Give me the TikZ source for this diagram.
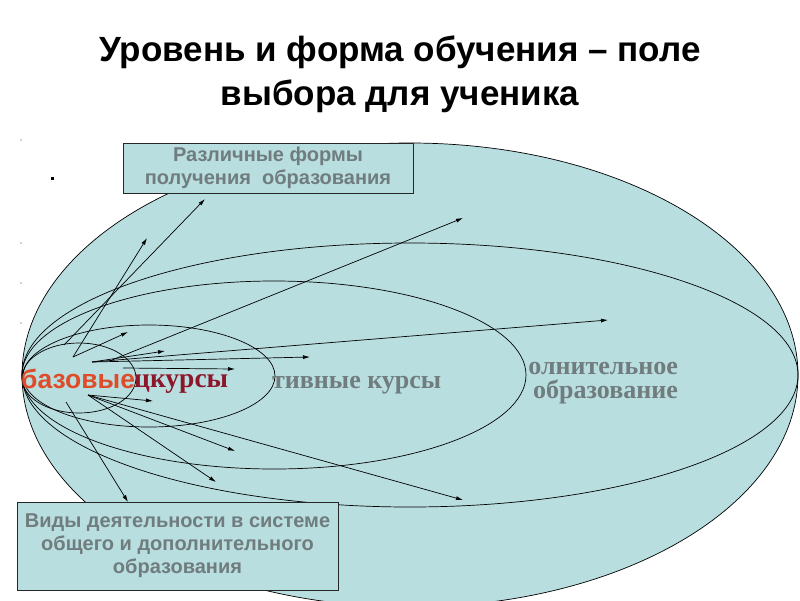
\documentclass[tikz,border=0pt]{standalone}
\usepackage{fontspec}
\setmainfont{Liberation Serif}
\setsansfont{Liberation Sans}
\usepackage{xcolor}
\usetikzlibrary{
  arrows.meta,
  positioning
}
\definecolor{fieldblue}{RGB}{184,222,224}
\definecolor{labelgray}{RGB}{112,124,126}
\definecolor{basicred}{RGB}{222,76,42}
\definecolor{specred}{RGB}{140,22,42}

\begin{document}
\begin{tikzpicture}[
  x=1pt, y=-1pt,
  orbit/.style={draw=black, line width=0.7pt},
  choice/.style={-{Latex[length=7pt,width=4pt]}, line width=0.7pt},
  infobox/.style={
    rectangle,
    draw=black!85,
    fill=fieldblue,
    line width=0.8pt,
    inner sep=0pt,
    text=labelgray,
    align=center,
    font=\sffamily\bfseries\fontsize{20}{23}\selectfont
  },
  levelname/.style={
    inner sep=0pt,
    text=labelgray,
    font=\bfseries\fontsize{26}{24}\selectfont
  }
]
\useasboundingbox (0,0) rectangle (800,600);
\fill[white] (0,0) rectangle (800,600);

\node [align=center, font=\sffamily\bfseries\fontsize{35}{44}\selectfont] (title) at (400,74)
  {Уровень и форма обучения -- поле\\выбора для ученика};

\filldraw [orbit, fill=fieldblue] (410,375) ellipse [x radius=388pt, y radius=232pt];
\draw [orbit] (410,375) ellipse [x radius=388pt, y radius=132pt];
\draw [orbit] (274,375) ellipse [x radius=252pt, y radius=94pt];
\draw [orbit] (149,376) ellipse [x radius=126pt, y radius=51pt];
\draw [orbit] (79,378) ellipse [x radius=57pt, y radius=35pt];

\fill (50.5,176.5) rectangle (53.5,179.5);
\foreach \y in {140,243,283,323}
  \fill [black!35] (21,\y) circle [radius=0.8pt];

\node [levelname, align=right, anchor=east] (extra-education) at (678,383) {олнительное\\образование};
\node [levelname, anchor=base west] (elective-courses) at (272,388) {тивные курсы};
\node [inner sep=0pt, anchor=base west, text=specred, font=\bfseries\fontsize{27.5}{28}\selectfont]
  (special-courses) at (134,387) {цкурсы};
\node [inner sep=0pt, anchor=base west, text=basicred, font=\sffamily\bfseries\fontsize{26.5}{28}\selectfont]
  (basic-courses) at (21,388) {базовые};

\node [infobox, minimum width=290pt, minimum height=50pt] (forms-box) at (268,168)
  {Различные формы\\получения~ образования};
\node [infobox, minimum width=321pt, minimum height=88pt] (activity-box) at (177.5,546)
  {Виды деятельности в системе\\общего и дополнительного\\образования};

\coordinate (up-a) at (73,357);
\coordinate (up-b) at (64,345);
\coordinate (up-c) at (92,362);
\coordinate (up-d) at (112,360);
\coordinate (up-e) at (123,368);
\coordinate (down-a) at (88,395);
\coordinate (down-b) at (66,402);

\coordinate (to-forms-a) at (147,238);
\coordinate (to-forms-b) at (205,199);
\coordinate (to-basic) at (128,332);
\coordinate (to-special-a) at (165,351);
\coordinate (to-elective-a) at (310,357);
\coordinate (to-extra-a) at (608,320);
\coordinate (to-special-b) at (235,369);
\coordinate (to-extra-b) at (463,218);
\coordinate (to-basic-b) at (153,401);
\coordinate (to-special-c) at (235,451);
\coordinate (to-elective-b) at (216,482);
\coordinate (to-extra-c) at (463,500);
\coordinate (to-activity) at (128,502);

\draw [choice] (up-a) -- (to-forms-a);
\draw [choice] (up-b) -- (to-forms-b);
\draw [choice] (up-a) -- (to-basic);
\draw [choice] (up-c) -- (to-special-a);
\draw [choice] (up-c) -- (to-elective-a);
\draw [choice] (up-c) -- (to-extra-a);
\draw [choice] (up-e) -- (to-special-b);
\draw [choice] (up-d) -- (to-extra-b);
\draw [choice] (down-a) -- (to-basic-b);
\draw [choice] (down-a) -- (to-special-c);
\draw [choice] (down-a) -- (to-elective-b);
\draw [choice] (down-a) -- (to-extra-c);
\draw [choice] (down-b) -- (to-activity);
\end{tikzpicture}
\end{document}
